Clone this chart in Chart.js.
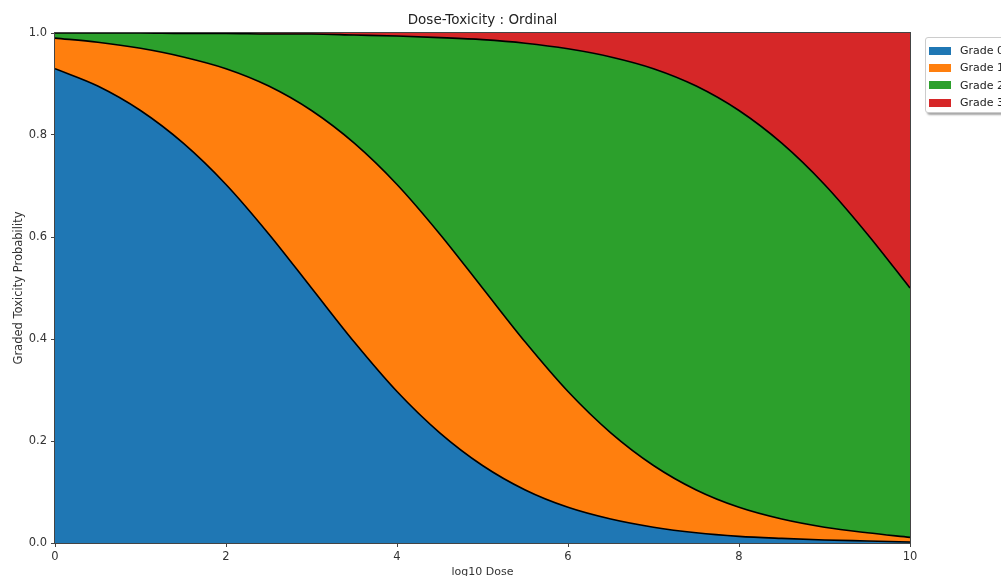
<!DOCTYPE html>
<html>
<head>
<meta charset="utf-8">
<script src="https://cdn.jsdelivr.net/npm/chart.js@4.4.0/dist/chart.umd.min.js"></script>
<style>
  body { margin: 0; overflow: hidden; background: #fff; font-family: "DejaVu Sans", sans-serif; }
  #wrap { position: relative; width: 1001px; height: 576px; overflow: hidden; }
  #legend {
    position: absolute; left: 925px; top: 37px; width: 100px; height: 76px;
    border: 1px solid #ccc; border-radius: 3px; background: #fff;
    box-shadow: 2px 2px 2px rgba(0,0,0,0.35);
    font-size: 11px; color: #222; box-sizing: border-box; padding-top: 4px;
  }
  .row { height: 17.3px; display: flex; align-items: center; }
  .sw { width: 22px; height: 8px; margin-left: 3px; margin-right: 9px; }
</style>
</head>
<body>
<div id="wrap">
  <canvas id="doseChart" width="1001" height="576"></canvas>
  <div id="legend"></div>
</div>
<script>
// log10 dose grid
const doses = [0, 0.5, 1, 1.5, 2, 2.5, 3, 3.5, 4, 4.5, 5, 5.5, 6, 6.5, 7, 7.5, 8, 8.5, 9, 9.5, 10];

// cumulative probabilities (upper edge of each band)
const cumGrade0 = [0.930, 0.896, 0.848, 0.784, 0.703, 0.606, 0.500, 0.394, 0.297, 0.216, 0.152,
                   0.104, 0.070, 0.047, 0.031, 0.020, 0.013, 0.009, 0.006, 0.004, 0.002];
const cumGrade1 = [0.990, 0.982, 0.970, 0.953, 0.930, 0.896, 0.848, 0.784, 0.703, 0.606, 0.500,
                   0.394, 0.297, 0.216, 0.152, 0.104, 0.070, 0.047, 0.031, 0.020, 0.011];
const cumGrade2 = [1.000, 1.000, 1.000, 0.999, 0.999, 0.998, 0.998, 0.996, 0.994, 0.991, 0.987,
                   0.980, 0.969, 0.953, 0.930, 0.896, 0.848, 0.784, 0.703, 0.606, 0.500];
const cumGrade3 = doses.map(() => 1.0);

const gradeLabels = ['Grade 0', 'Grade 1', 'Grade 2', 'Grade 3'];
const gradeColors = ['#1f77b4', '#ff7f0e', '#2ca02c', '#d62728'];
const xTicks = [0, 2, 4, 6, 8, 10];
const yTicks = [0, 0.2, 0.4, 0.6, 0.8, 1.0];
const chartTitle = 'Dose-Toxicity : Ordinal';

const toPoints = arr => arr.map((y, i) => ({ x: doses[i], y }));

// box round the plot (matplotlib spines) and a title centred over the plot area
const frame = {
  id: 'frame',
  afterDraw(c) {
    const { ctx, chartArea: a } = c;
    ctx.save();
    ctx.strokeStyle = '#444';
    ctx.lineWidth = 1;
    ctx.strokeRect(a.left - 0.5, a.top - 0.5, a.right - a.left + 1, a.bottom - a.top + 1);
    ctx.fillStyle = '#222';
    ctx.font = '13.5px "DejaVu Sans"';
    ctx.textAlign = 'center';
    ctx.textBaseline = 'middle';
    ctx.fillText(chartTitle, (a.left + a.right) / 2, 20);
    ctx.restore();
  }
};

const series = [cumGrade0, cumGrade1, cumGrade2, cumGrade3];
const datasets = series.map((s, i) => ({
  label: gradeLabels[i],
  data: toPoints(s),
  borderColor: i === 3 ? 'rgba(0,0,0,0)' : '#000',
  borderWidth: i === 3 ? 0 : 1.6,
  backgroundColor: gradeColors[i],
  fill: i === 0 ? 'origin' : '-1',
  pointRadius: 0,
  cubicInterpolationMode: 'monotone'
}));

const tickFont = { family: 'DejaVu Sans', size: 11.5 };

new Chart(document.getElementById('doseChart').getContext('2d'), {
  type: 'line',
  data: { datasets },
  options: {
    responsive: false,
    animation: false,
    layout: { padding: { left: 0, right: 91, top: 33, bottom: 0 } },
    plugins: {
      legend: { display: false },
      tooltip: { enabled: false },
      filler: { drawTime: 'beforeDatasetsDraw' }
    },
    scales: {
      x: {
        type: 'linear', min: 0, max: 10,
        afterFit: s => { s.height = 33; },
        afterBuildTicks: s => { s.ticks = xTicks.map(v => ({ value: v })); },
        ticks: { color: '#333', font: tickFont, padding: 3, maxRotation: 0 },
        grid: { display: true, drawOnChartArea: false, tickLength: 4, color: '#444' },
        border: { display: false },
        title: { display: true, text: 'log10 Dose', color: '#333', font: { family: 'DejaVu Sans', size: 11 }, padding: { top: 0, bottom: -3 } }
      },
      y: {
        min: 0, max: 1,
        afterFit: s => { s.width = 55; },
        afterBuildTicks: s => { s.ticks = yTicks.map(v => ({ value: v })); },
        ticks: { color: '#333', font: tickFont, padding: 4, callback: v => v.toFixed(1) },
        grid: { display: true, drawOnChartArea: false, tickLength: 4, color: '#444' },
        border: { display: false },
        title: { display: true, text: 'Graded Toxicity Probability', color: '#333', font: tickFont, padding: { top: 12, bottom: 0 } }
      }
    }
  },
  plugins: [frame]
});

// legend box, clipped by the window like the reference
const legend = document.getElementById('legend');
gradeLabels.forEach((name, i) => {
  const row = document.createElement('div');
  row.className = 'row';
  row.innerHTML = `<span class="sw" style="background:${gradeColors[i]}"></span><span>${name}</span>`;
  legend.appendChild(row);
});
</script>
</body>
</html>
